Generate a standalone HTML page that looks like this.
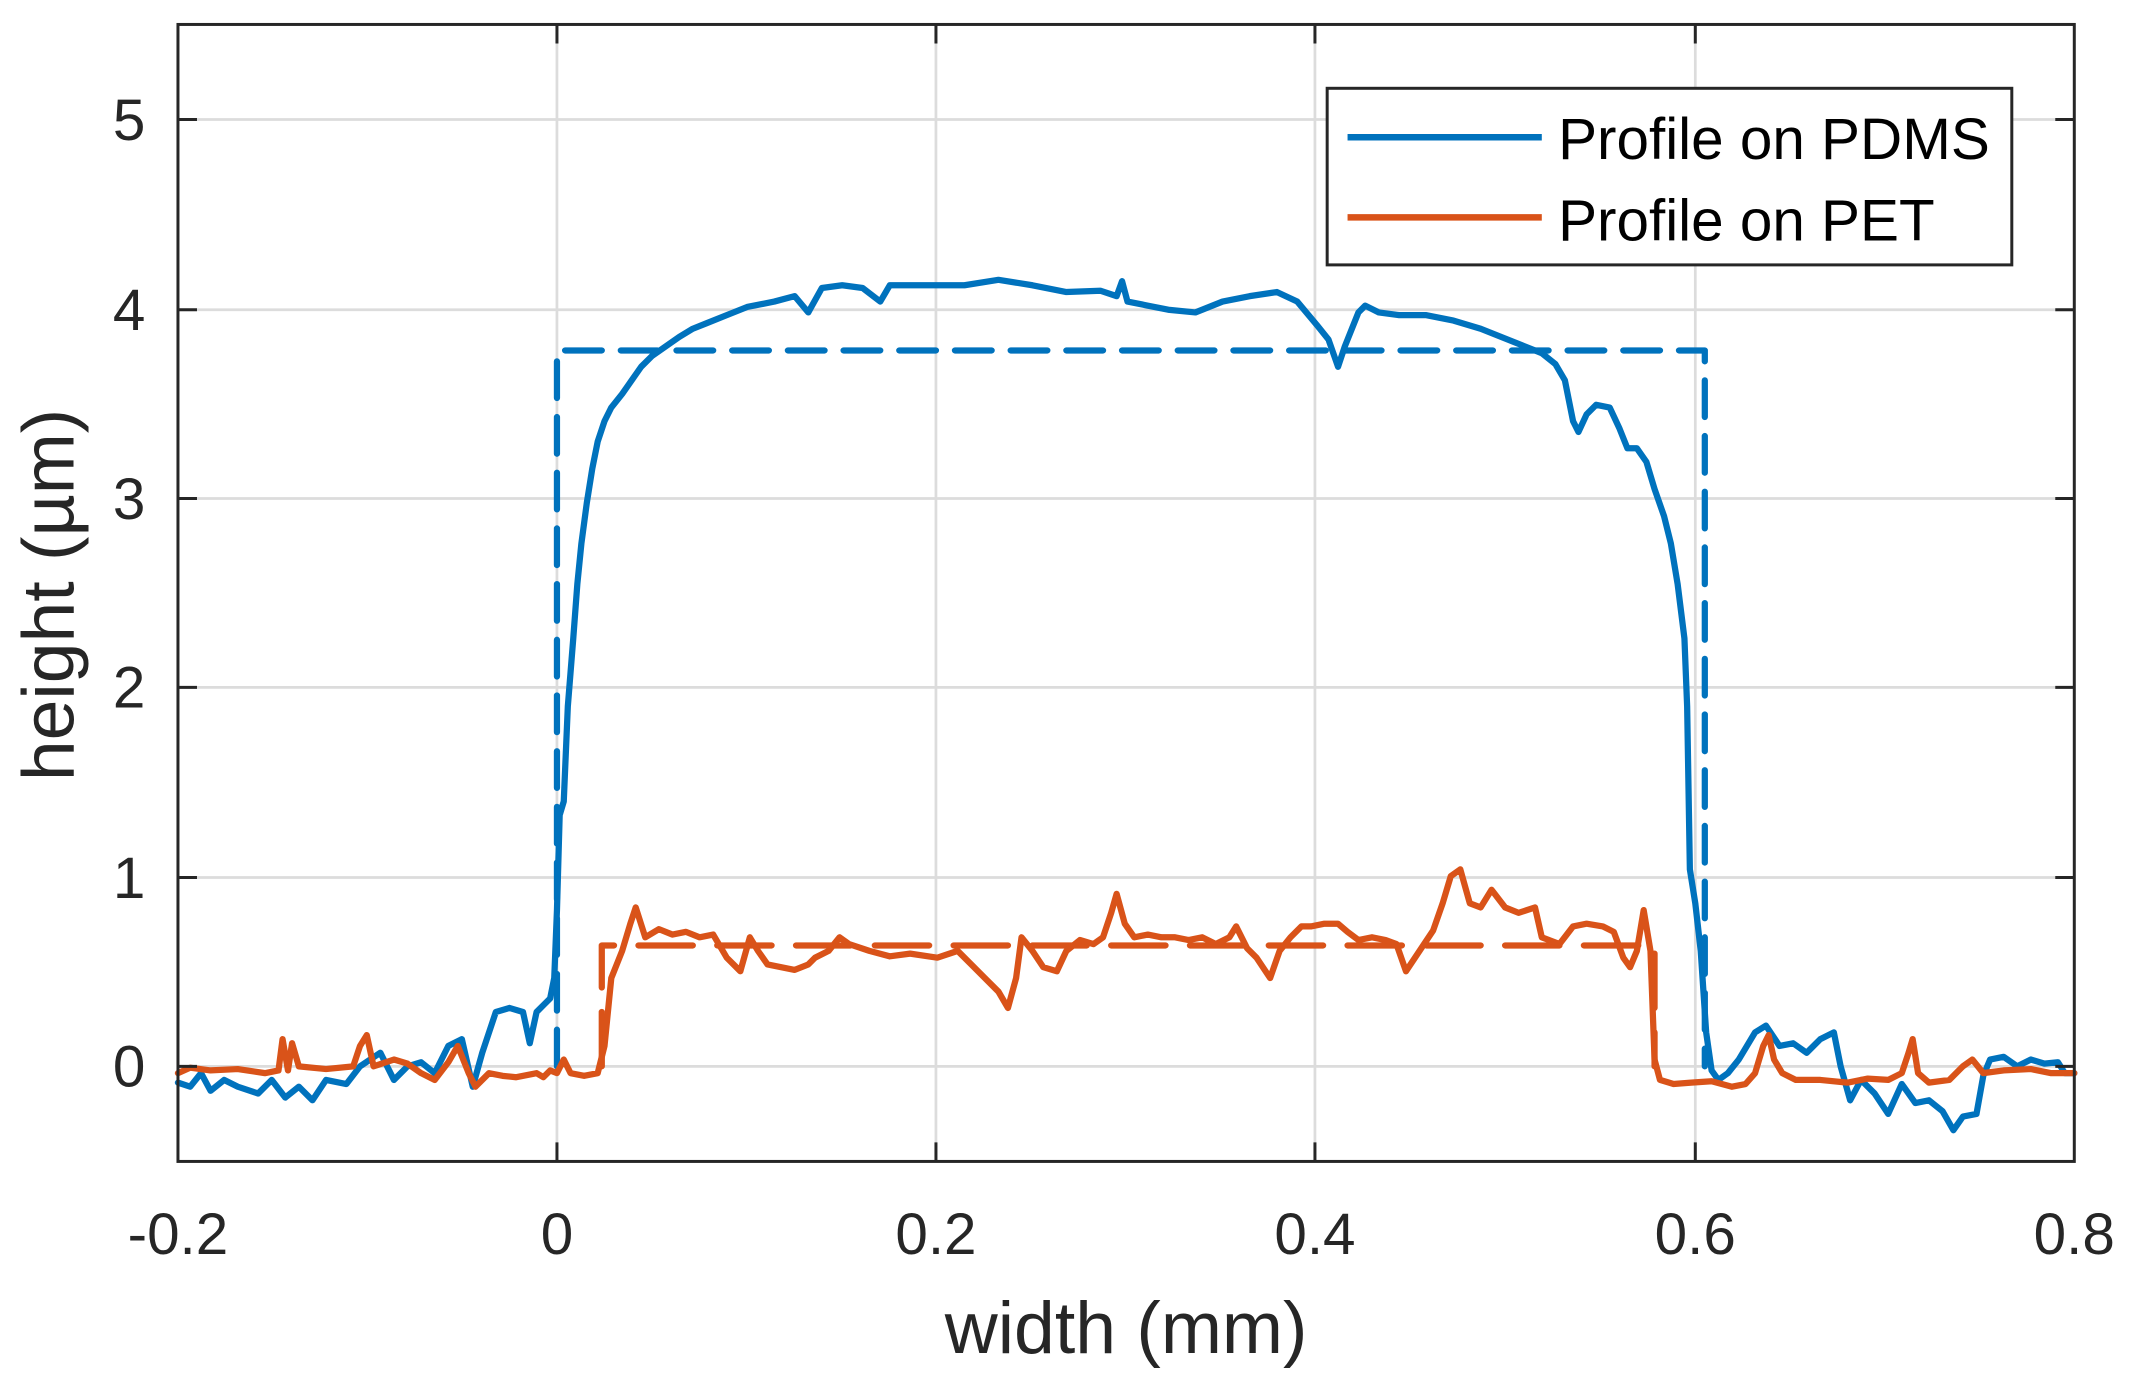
<!DOCTYPE html>
<html><head><meta charset="utf-8"><style>html,body{margin:0;padding:0;background:#fff}svg{display:block}</style></head>
<body>
<svg width="2130" height="1380" viewBox="0 0 1568 1015.9" xmlns="http://www.w3.org/2000/svg" font-family="Liberation Sans, Arial, sans-serif">
<rect x="0" y="0" width="1568" height="1016" fill="#fff"/>
<g stroke="#dcdcdc" stroke-width="2" fill="none">
<path d="M410,18V855M689,18V855M968,18V855M1248,18V855"/>
<path d="M131,88H1527M131,228H1527M131,367H1527M131,506H1527M131,646H1527M131,785H1527"/>
</g>
<g fill="none" stroke-linejoin="round" stroke-linecap="round">
<path stroke="#0072bd" stroke-width="4.6" stroke-dasharray="27,14" d="M410,785L410,258L1255,258L1255,785"/>
<path stroke="#d95319" stroke-width="4.6" stroke-dasharray="40,18" d="M443,785L443,696L1218,696L1218,785"/>
<path stroke="#0072bd" stroke-width="4.6" d="M131,797L140,800L148,790L155,803L165,795L175,800L190,805L200,795L210,808L220,800L230,810L240,795L255,798L265,785L280,775L290,795L300,785L310,782L320,790L330,770L340,765L348,800L355,775L365,745L375,742L385,745L390,768L395,745L400,740L405,735L408,720L410,670L412,600L415,590L418,520L422,470L425,430L428,400L432,370L436,345L440,325L445,310L450,300L458,290L465,280L472,270L480,262L490,255L500,248L510,242L520,238L535,232L550,226L570,222L585,218L595,230L605,212L620,210L635,212L648,222L655,210L670,210L690,210L710,210L735,206L760,210L785,215L810,214L822,218L826,207L830,222L845,225L860,228L880,230L900,222L920,218L940,215L955,222L970,240L978,250L985,270L990,255L1000,230L1005,225L1015,230L1030,232L1050,232L1070,236L1090,242L1105,248L1120,254L1135,260L1145,268L1152,280L1158,310L1162,318L1168,305L1175,298L1185,300L1192,315L1198,330L1205,330L1212,340L1218,360L1225,380L1230,400L1235,430L1240,470L1242,520L1243,580L1244,640L1248,665L1252,700L1256,760L1260,788L1265,795L1272,790L1280,780L1292,760L1300,755L1310,770L1320,768L1330,775L1340,765L1350,760L1355,785L1362,810L1370,795L1380,805L1390,820L1400,798L1410,812L1420,810L1430,818L1438,832L1445,822L1455,820L1460,792L1465,780L1475,778L1485,785L1495,780L1505,783L1515,782L1520,790L1527,790"/>
<path stroke="#d95319" stroke-width="4.6" d="M131,790L140,786L155,788L175,787L195,790L205,788L208,765L212,788L215,768L220,785L240,787L260,785L265,770L270,762L275,785L290,780L300,783L310,790L320,795L330,782L337,770L345,790L350,800L360,790L370,792L380,793L395,790L400,793L405,788L410,790L415,780L420,790L430,792L440,790L445,770L450,720L458,700L464,680L468,668L475,690L485,684L495,688L505,686L515,690L525,688L535,705L545,715L552,690L558,700L565,710L575,712L585,714L595,710L600,705L610,700L618,690L625,695L640,700L655,704L670,702L690,705L705,700L715,710L725,720L735,730L742,742L748,720L752,690L760,700L768,712L778,715L785,700L795,692L805,695L812,690L818,672L822,658L828,680L835,690L845,688L855,690L865,690L875,692L885,690L895,695L905,690L910,682L918,698L925,705L935,720L942,700L950,690L958,682L965,682L975,680L985,680L992,686L1000,692L1010,690L1020,692L1028,695L1035,715L1045,700L1055,685L1062,665L1068,645L1075,640L1082,665L1090,668L1098,655L1108,668L1118,672L1130,668L1135,690L1148,695L1158,682L1168,680L1180,682L1188,686L1195,705L1200,712L1205,700L1210,670L1215,700L1218,780L1222,795L1232,798L1245,797L1260,796L1275,800L1285,798L1292,790L1298,770L1302,762L1306,780L1312,790L1322,795L1340,795L1360,797L1375,794L1390,795L1400,790L1405,775L1408,765L1412,790L1420,797L1435,795L1445,785L1452,780L1460,790L1475,788L1495,787L1510,790L1527,790"/>
</g>
<g stroke="#262626" stroke-width="2.2" fill="none">
<rect x="131" y="18" width="1396" height="837"/>
<path d="M410,855v-14M689,855v-14M968,855v-14M1248,855v-14M410,18v14M689,18v14M968,18v14M1248,18v14"/>
<path d="M131,88h14M131,228h14M131,367h14M131,506h14M131,646h14M131,785h14M1527,88h-14M1527,228h-14M1527,367h-14M1527,506h-14M1527,646h-14M1527,785h-14"/>
</g>
<g font-size="43" fill="#262626" text-anchor="middle">
<text x="131" y="923">-0.2</text><text x="410" y="923">0</text><text x="689" y="923">0.2</text><text x="968" y="923">0.4</text><text x="1248" y="923">0.6</text><text x="1527" y="923">0.8</text>
</g>
<g font-size="43" fill="#262626" text-anchor="end">
<text x="107" y="103">5</text><text x="107" y="243">4</text><text x="107" y="382">3</text><text x="107" y="521">2</text><text x="107" y="661">1</text><text x="107" y="800">0</text>
</g>
<text x="829" y="996" font-size="54" fill="#262626" text-anchor="middle">width (mm)</text>
<text transform="translate(54,438) rotate(-90)" font-size="54" fill="#262626" text-anchor="middle">height (µm)</text>
<rect x="977" y="65" width="504" height="130" fill="#fff" stroke="#262626" stroke-width="2.2"/>
<path d="M992,101H1135" stroke="#0072bd" stroke-width="4.8"/>
<path d="M992,160H1135" stroke="#d95319" stroke-width="4.8"/>
<g font-size="43" fill="#000">
<text x="1147" y="117">Profile on PDMS</text>
<text x="1147" y="177">Profile on PET</text>
</g>
</svg>
</body></html>
